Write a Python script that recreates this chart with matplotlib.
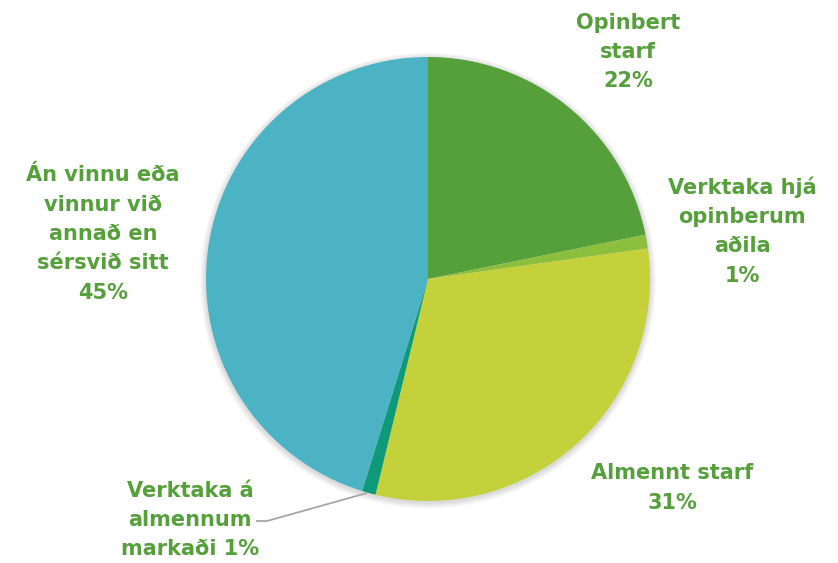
import matplotlib
matplotlib.use("Agg")
import matplotlib.pyplot as plt
from matplotlib.patches import Circle

categories = ["Opinbert\nstarf", "Verktaka hjá\nopinberum\naðila", "Almennt starf",
              "Verktaka á\nalmennum\nmarkaði", "Án vinnu eða\nvinnur við\nannað en\nsérsvið sitt"]
values = [21.8, 1.0, 31.0, 1.0, 45.2]
colors = ["#55a03b", "#8dbf3e", "#c4d13a", "#0e9a78", "#4bb3c4"]
label_color = "#56a03c"

W, H = 838, 563
fig = plt.figure(figsize=(W / 100, H / 100), dpi=100)
ax = fig.add_axes([0, 0, 1, 1])

cx, cy, r = 428, H - 279, 222

# soft shadow
for k in range(1, 7):
    ax.add_patch(Circle((cx, cy - 1.5), r + k, color="black", alpha=0.025,
                        lw=0, zorder=0))

ax.pie(values, colors=colors, startangle=90, counterclock=False,
       center=(cx, cy), radius=r, frame=True,
       wedgeprops=dict(linewidth=0, zorder=2))
ax.set_xlim(0, W)
ax.set_ylim(0, H)
ax.axis("off")

font = dict(family="DejaVu Sans", fontweight="bold", fontsize=15,
            color=label_color, ha="center", va="center", linespacing=1.58)

def pct(v):
    return f"{round(v)}%"

texts = [
    (categories[0] + "\n" + pct(values[0]), 628, 52),
    (categories[1] + "\n" + pct(values[1]), 742, 231),
    (categories[2] + "\n" + pct(values[2]), 672, 488),
    (categories[3] + " " + pct(values[3]), 190, 520),
    (categories[4] + "\n" + pct(values[4]), 103, 234),
]
for t, x, y in texts:
    ax.text(x, H - y, t, **font)

# leader line for the small slice
ax.plot([256, 267, 367], [H - 521, H - 521, H - 493], color="#a6a6a6", lw=1.3,
        solid_capstyle="butt", zorder=1)

fig.savefig("out.png", dpi=100)
